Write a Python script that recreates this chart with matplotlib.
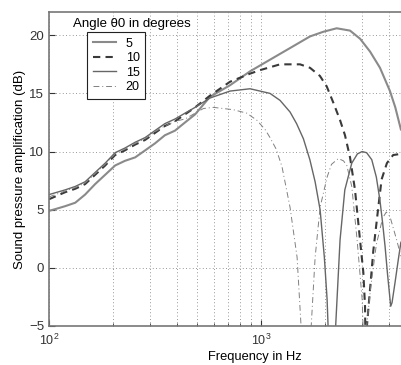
import matplotlib
matplotlib.use('Agg')
import matplotlib.pyplot as plt

plt.rcParams['font.family'] = ['Liberation Sans', 'DejaVu Sans']

# Angle 5 degrees
f_5 = [100, 107, 119, 133, 148, 165, 184, 205, 228, 255, 284, 316, 352, 393, 438, 489,
       574, 714, 888, 1103, 1371, 1703, 1967, 2275, 2630, 2933, 3268, 3642, 4058, 4300, 4570]
db_5 = [4.9, 5.05, 5.3, 5.6, 6.3, 7.2, 8.0, 8.8, 9.2, 9.5, 10.1, 10.7, 11.4, 11.8, 12.5, 13.2,
        14.7, 15.7, 16.9, 17.9, 18.9, 19.9, 20.3, 20.6, 20.4, 19.7, 18.6, 17.2, 15.2, 13.8, 11.9]

# Angle 10 degrees
f_10 = [100, 119, 133, 148, 165, 184, 205, 228, 255, 284, 316, 352, 393, 438, 489, 574,
        714, 888, 989, 1230, 1528, 1703, 1897, 2042, 2194, 2360, 2490, 2630, 2776, 2909,
        3039, 3095, 3125, 3160, 3280, 3388, 3575, 3705, 3925, 4200, 4570]
db_10 = [5.9, 6.5, 6.8, 7.2, 8.0, 8.8, 9.7, 10.1, 10.6, 11.0, 11.6, 12.2, 12.6, 13.2, 13.8, 14.8,
         16.0, 16.7, 17.0, 17.5, 17.5, 17.2, 16.5, 15.6, 14.2, 12.7, 11.4, 9.5, 6.7, 3.0,
         -0.4, -3.3, -9.0, -5.0, -1.5, 1.5, 5.2, 7.6, 9.0, 9.7, 9.8]

# Angle 15 degrees
f_15 = [100, 119, 133, 148, 165, 184, 205, 228, 255, 284, 316, 352, 393, 438, 489, 574,
        714, 888, 1103, 1230, 1371, 1472, 1585, 1700, 1800, 1900, 1990, 2050, 2140, 2250,
        2360, 2485, 2680, 2850, 3000, 3150, 3330, 3500, 3640, 3750, 3850, 3950, 4091, 4150,
        4285, 4450, 4570]
db_15 = [6.3, 6.7, 7.0, 7.4, 8.2, 9.0, 9.9, 10.3, 10.8, 11.2, 11.8, 12.4, 12.8, 13.3, 13.8, 14.6,
         15.2, 15.4, 15.0, 14.4, 13.4, 12.4, 11.1, 9.3, 7.4, 5.0, 0.9, -2.7, -12.0, -5.0,
         2.4, 6.7, 9.0, 9.8, 10.0, 9.9, 9.3, 7.8, 5.8, 3.8, 1.8, -0.5, -3.3, -3.0,
         -1.3, 0.8, 2.2]

# Angle 20 degrees
f_20 = [100, 119, 133, 148, 165, 184, 205, 228, 255, 284, 316, 352, 393, 438, 489, 535,
        596, 664, 740, 857, 955, 1045, 1103, 1180, 1256, 1371, 1480, 1545, 1630, 1725,
        1800, 1900, 2050, 2150, 2317, 2450, 2540, 2680, 2840, 3000, 3030, 3090, 3150,
        3300, 3500, 3750, 3900, 4060, 4365, 4570]
db_20 = [6.1, 6.6, 6.9, 7.3, 8.1, 8.9, 9.8, 10.2, 10.7, 11.1, 11.7, 12.2, 12.6, 12.8, 13.3, 13.7,
         13.8, 13.7, 13.6, 13.3, 12.7, 11.9, 11.2, 10.2, 8.7, 5.2, 0.9, -5.0, -12.0, -5.0,
         0.9, 5.2, 7.8, 8.9, 9.4, 9.2, 8.8, 7.0, 2.4, -2.7, -5.0, -11.0, -5.0,
         -1.5, 2.0, 4.3, 4.8, 4.4, 2.4, 1.0]

labels = ['5', '10', '15', '20']

fig = plt.figure(figsize=(4.01, 3.65), dpi=100)
# axes runs past the right edge of the image (cropped like the original)
ax = fig.add_axes([49 / 401, 39 / 365, 412 / 401, 314 / 365])

ax.plot(f_5, db_5, color='#8a8a8a', lw=1.5, label=labels[0])
ax.plot(f_10, db_10, color='#3a3a3a', lw=1.5, ls=(0, (3.5, 2.5)), label=labels[1])
ax.plot(f_15, db_15, color='#666666', lw=1.0, label=labels[2])
ax.plot(f_20, db_20, color='#808080', lw=0.7, ls=(0, (6, 3, 1, 3)), label=labels[3])

ax.set_xscale('log')
ax.set_xlim(100, 10 ** (2 + 412 / 212))
ax.set_xticks([100, 1000])
ax.set_ylim(-5, 22)
ax.set_yticks([-5, 0, 5, 10, 15, 20])

ax.grid(True, which='major', ls=(0, (1, 3)), color='#777777', lw=0.6)
ax.grid(True, which='minor', axis='x', ls=(0, (1, 3)), color='#777777', lw=0.6)

ax.tick_params(which='both', direction='in', colors='#333333')
ax.tick_params(axis='y', labelsize=9.5)
ax.tick_params(axis='x', labelsize=9, pad=5)
ax.tick_params(which='major', length=4)
ax.tick_params(which='minor', length=2)
for s in ax.spines.values():
    s.set_color('#777777')
    s.set_linewidth(1.2)

ax.set_xlabel('Frequency in Hz', fontsize=9.3, labelpad=2)
ax.set_ylabel('Sound pressure amplification (dB)', fontsize=9.5, labelpad=2)

fig.text(73 / 401, 1 - 24 / 365, 'Angle θ0 in degrees', fontsize=9.5, va='center', ha='left')
leg = ax.legend(loc='upper left', bbox_to_anchor=(87 / 401, 1 - 32 / 365),
                bbox_transform=fig.transFigure, fontsize=9, frameon=True,
                fancybox=False, shadow=False, borderpad=0.45, labelspacing=0.2,
                handlelength=1.85, handletextpad=0.8, borderaxespad=0)
leg.get_frame().set_edgecolor('#222222')
leg.get_frame().set_linewidth(0.8)
leg.get_frame().set_alpha(1)

fig.savefig('out.png', dpi=100)
